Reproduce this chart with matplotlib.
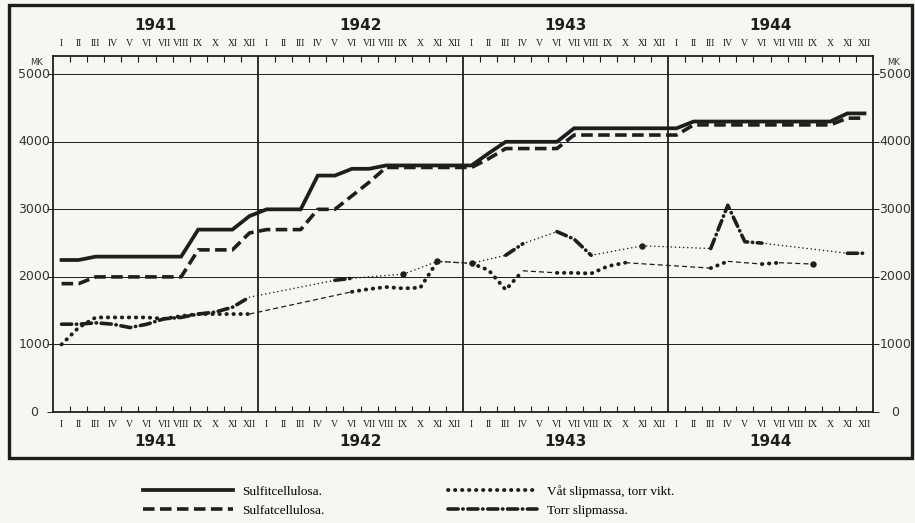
import numpy as np
import matplotlib.pyplot as plt
from matplotlib.patches import Rectangle
from matplotlib.transforms import blended_transform_factory

# Monthly prices (mk) 1941-1944.
# nan = month without a quoted price (drawn as a thin connector line)
nan = np.nan
years = ["1941", "1942", "1943", "1944"]
months = ["I", "II", "III", "IV", "V", "VI", "VII", "VIII", "IX", "X", "XI", "XII"]

sulfit = [2250, 2250, 2300, 2300, 2300, 2300, 2300, 2300, 2700, 2700, 2700, 2900,
          3000, 3000, 3000, 3500, 3500, 3600, 3600, 3650, 3650, 3650, 3650, 3650,
          3650, 3830, 4000, 4000, 4000, 4000, 4200, 4200, 4200, 4200, 4200, 4200,
          4200, 4300, 4300, 4300, 4300, 4300, 4300, 4300, 4300, 4300, 4420, 4420]

sulfat = [1900, 1900, 2000, 2000, 2000, 2000, 2000, 2000, 2400, 2400, 2400, 2650,
          2700, 2700, 2700, 3000, 3000, 3200, 3400, 3620, 3620, 3620, 3620, 3620,
          3620, 3750, 3900, 3900, 3900, 3900, 4100, 4100, 4100, 4100, 4100, 4100,
          4100, 4250, 4250, 4250, 4250, 4250, 4250, 4250, 4250, 4250, 4350, 4350]

vat = [1000, 1250, 1400, 1400, 1400, 1400, 1380, 1420, 1450, 1450, 1450, 1450,
       nan, nan, nan, nan, nan, 1780, 1820, 1850, 1830, 1840, 2230, nan,
       2200, 2100, 1810, 2090, nan, 2060, 2060, 2050, 2160, 2210, nan, nan,
       nan, nan, 2130, 2230, nan, 2190, 2210, nan, 2190, nan, nan, nan]

torr = [1300, 1300, 1320, 1300, 1250, 1300, 1380, 1400, 1450, 1480, 1550, 1700,
        nan, nan, nan, nan, 1950, 1980, nan, nan, 2040, nan, 2230, nan,
        2200, nan, 2320, 2490, nan, 2670, 2560, 2320, nan, nan, 2460, nan,
        nan, nan, 2420, 3060, 2520, 2500, nan, nan, nan, nan, 2350, 2350]

labels = ["Sulfitcellulosa.", "Sulfatcellulosa.",
          "Våt slipmassa, torr vikt.", "Torr slipmassa."]

ink = "#1e1e1e"
paper = "#f6f6f3"
x = np.arange(len(sulfit)) + 0.5


def gaps(vals):
    # pairs of known months with missing months in between
    idx = [i for i, v in enumerate(vals) if not np.isnan(v)]
    return [(a, b) for a, b in zip(idx[:-1], idx[1:]) if b - a > 1]


def lonely(vals):
    v = np.asarray(vals, dtype=float)
    out = []
    for i in range(len(v)):
        if np.isnan(v[i]):
            continue
        left = i == 0 or np.isnan(v[i - 1])
        right = i == len(v) - 1 or np.isnan(v[i + 1])
        if left and right:
            out.append(i)
    return out


fig = plt.figure(figsize=(9.15, 5.23), dpi=100)
fig.patch.set_facecolor(paper)
ax = fig.add_axes([53 / 915, 1 - 412 / 523, 820 / 915, 356 / 523])
ax.set_facecolor(paper)
ax.set_xlim(0, 48)
ax.set_ylim(0, 5270)

# grid + year dividers
for v in range(1000, 6000, 1000):
    ax.axhline(v, color=ink, lw=0.7, zorder=1)
for yr in (12, 24, 36):
    ax.axvline(yr, color=ink, lw=1.3, zorder=1)
for s in ax.spines.values():
    s.set_color(ink)
    s.set_linewidth(1.3)

ax.set_xticks([])
ax.set_xticks([m for m in range(1, 48) if m % 12], minor=True)
ax.tick_params(axis="x", which="minor", direction="in", top=True, bottom=True,
               length=4, width=0.8, color=ink)
ax.set_yticks(range(0, 6000, 1000))
ax.tick_params(axis="y", direction="out", left=True, right=True, length=4,
               width=0.7, color=ink, labelleft=False)

# thin connectors over missing months
for a, b in gaps(vat):
    ax.plot([x[a], x[b]], [vat[a], vat[b]], color=ink, lw=0.9,
            linestyle=(0, (4, 2.5)), zorder=2)
for a, b in gaps(torr):
    ax.plot([x[a], x[b]], [torr[a], torr[b]], color=ink, lw=1.1,
            linestyle=(0, (0.1, 2.6)), dash_capstyle="round", zorder=2)

# heavy lines
h_vat, = ax.plot(x, vat, color=ink, lw=2.8, linestyle=(0, (0.1, 1.7)),
                 dash_capstyle="round", zorder=3, label=labels[2])
h_torr, = ax.plot(x, torr, color=ink, lw=2.6, linestyle=(0, (2.8, 1.3, 0.1, 1.3)),
                  dash_capstyle="round", zorder=3, label=labels[3])
for i in lonely(vat):
    ax.plot(x[i], vat[i], "o", color=ink, ms=3.6, zorder=3)
for i in lonely(torr):
    ax.plot(x[i], torr[i], "o", color=ink, ms=3.6, zorder=3)

h_sulfat, = ax.plot(x, sulfat, color=ink, lw=2.6, linestyle=(0, (3.2, 1.5)),
                    zorder=4, label=labels[1])
h_sulfit, = ax.plot(x, sulfit, color=ink, lw=2.7, solid_joinstyle="miter",
                    zorder=5, label=labels[0])

# month and year labels, top and bottom
xtr = blended_transform_factory(ax.transData, ax.transAxes)
for k, yr in enumerate(years):
    ax.text(12 * k + 6, 1.087, yr, transform=xtr, ha="center", va="center",
            fontsize=11, fontweight="bold", color=ink)
    ax.text(12 * k + 6, -0.083, yr, transform=xtr, ha="center", va="center",
            fontsize=11, fontweight="bold", color=ink)
    for j, m in enumerate(months):
        for yy in (1.034, -0.034):
            ax.text(12 * k + j + 0.5, yy, m, transform=xtr,
                    ha="center", va="center", fontsize=7, family="Liberation Serif",
                    color=ink)

# y labels on both sides
ytr = blended_transform_factory(ax.transAxes, ax.transData)
for v in range(0, 6000, 1000):
    ax.text(-0.023, v, str(v), transform=ytr, ha="center", va="center",
            fontsize=9, color="#333333")
    ax.text(1.027, v, str(v), transform=ytr, ha="center", va="center",
            fontsize=9, color="#333333")
ax.text(-0.02, 0.983, "MK", transform=ax.transAxes, ha="center", va="center",
        fontsize=6, color="#333333")
ax.text(1.025, 0.983, "MK", transform=ax.transAxes, ha="center", va="center",
        fontsize=6, color="#333333")

# heavy outer frame
fig.add_artist(Rectangle((9 / 915, 1 - 458 / 523), 903 / 915, 453 / 523,
                         transform=fig.transFigure, fill=False, lw=2.4, color=ink))

fig.legend([h_sulfit, h_sulfat, h_vat, h_torr], labels, ncol=2, frameon=False,
           loc="upper left", bbox_to_anchor=(143 / 915, 1 - 485 / 523),
           borderpad=0, borderaxespad=0, handlelength=6.8, handletextpad=0.75,
           columnspacing=9.3, labelspacing=0.5,
           prop={"family": "Liberation Serif", "size": 9.5})

fig.savefig("out.png", dpi=100, facecolor=paper)
